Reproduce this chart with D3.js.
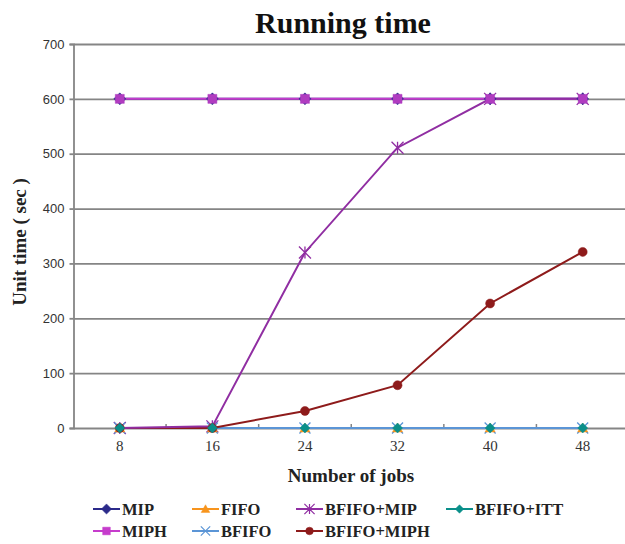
<!DOCTYPE html>
<html>
<head>
<meta charset="utf-8">
<script src="https://cdn.jsdelivr.net/npm/d3@7"></script>
<style>
  html, body { margin: 0; padding: 0; background: #fff; }
  svg { display: block; }
</style>
</head>
<body>
<svg id="chart" width="625" height="544"></svg>
<script>
// ---- data ----
const categories = ["8", "16", "24", "32", "40", "48"];
const yTicks = [0, 100, 200, 300, 400, 500, 600, 700];
const mip       = [600, 600, 600, 600, 600, 600];
const miph      = [600, 600, 600, 600, 600, 600];
const fifo      = [0, 0, 0, 0, 0, 0];
const bfifo     = [0, 0, 0, 0, 0, 0];
const bfifoMip  = [0, 3, 320, 511, 600, 600];
const bfifoMiph = [0, 0, 31, 78, 227, 321];
const bfifoItt  = [0, 0, 0, 0, 0, 0];

const seriesNames = ["MIP", "MIPH", "FIFO", "BFIFO", "BFIFO+MIP", "BFIFO+MIPH", "BFIFO+ITT"];

const series = [
  { name: "MIP",        values: mip,       color: "#2b2a8a", marker: "diamond" },
  { name: "MIPH",       values: miph,      color: "#c63ccc", marker: "square" },
  { name: "FIFO",       values: fifo,      color: "#f7941d", marker: "triangle" },
  { name: "BFIFO",      values: bfifo,     color: "#5b95d6", marker: "x" },
  { name: "BFIFO+MIP",  values: bfifoMip,  color: "#902ea2", marker: "asterisk" },
  { name: "BFIFO+MIPH", values: bfifoMiph, color: "#8e1b1b", marker: "circle" },
  { name: "BFIFO+ITT",  values: bfifoItt,  color: "#0a8f8a", marker: "smalldiamond" }
];

// ---- layout ----
const svg = d3.select("#chart");
const pLeft = 73.5, pRight = 629, pTop = 44, pBottom = 428;

const x = d3.scaleBand().domain(categories).range([pLeft, pRight]).padding(0);
const xc = d => x(d) + x.bandwidth() / 2;
const y = d3.scaleLinear().domain([0, 700]).range([pBottom, pTop]);

// gridlines + y axis
const yAxis = d3.axisLeft(y).tickValues(yTicks).tickSize(4).tickFormat(d3.format("d"));
const gy = svg.append("g").attr("transform", `translate(${pLeft},0)`).call(yAxis);
gy.select(".domain").attr("stroke", "#858585").attr("stroke-width", 1.8);
gy.selectAll(".tick line").attr("stroke", "#858585").attr("stroke-width", 1.8);
gy.selectAll(".tick text")
  .attr("x", -9)
  .attr("font-family", "'Liberation Sans Narrow', 'Liberation Sans', Arial, sans-serif")
  .attr("font-size", 13).attr("fill", "#333");
gy.selectAll(".tick").append("line")
  .attr("x1", 0).attr("x2", 625 - pLeft)
  .attr("stroke", "#858585").attr("stroke-width", 1.8);

// x axis
const xAxis = d3.axisBottom(x).tickSize(0).tickPadding(12);
const gx = svg.append("g").attr("transform", `translate(0,${pBottom})`).call(xAxis);
gx.select(".domain").remove();
gx.selectAll(".tick text")
  .attr("font-family", "'Liberation Serif', 'Times New Roman', serif")
  .attr("font-size", 15).attr("fill", "#333");
gx.selectAll("line.bnd").data(categories.slice(1)).enter().append("line")
  .attr("class", "bnd")
  .attr("x1", d => x(d)).attr("x2", d => x(d))
  .attr("y1", -4).attr("y2", 0)
  .attr("stroke", "#858585").attr("stroke-width", 1.5);

// marker generator
function markerPath(type, s) {
  const h = s / 2;
  switch (type) {
    case "diamond": return `M0,${-h}L${h},0L0,${h}L${-h},0Z`;
    case "smalldiamond": return `M0,${-h}L${h},0L0,${h}L${-h},0Z`;
    case "square": return `M${-h},${-h}H${h}V${h}H${-h}Z`;
    case "triangle": return `M0,${-h}L${h},${h * 0.8}L${-h},${h * 0.8}Z`;
    case "x": return `M${-h},${-h}L${h},${h}M${h},${-h}L${-h},${h}`;
    case "asterisk": return `M${-h},${-h}L${h},${h}M${h},${-h}L${-h},${h}M0,${-h}V${h}`;
    case "circle": return d3.symbol(d3.symbolCircle, Math.PI * h * h)();
  }
}
const markerSize = { diamond: 12, square: 9, triangle: 10, x: 11, asterisk: 12, circle: 9, smalldiamond: 10 };
const isStroke = t => t === "x" || t === "asterisk";

const line = d3.line().x((v, i) => xc(categories[i])).y(v => y(v));

// line draw order
const lineOrder = ["FIFO", "BFIFO+ITT", "BFIFO", "MIP", "MIPH", "BFIFO+MIPH", "BFIFO+MIP"];
const byName = Object.fromEntries(series.map(s => [s.name, s]));
lineOrder.forEach(n => {
  const s = byName[n];
  svg.append("path").datum(s.values)
    .attr("d", line).attr("fill", "none")
    .attr("stroke", s.color).attr("stroke-width", 2);
});

// markers draw order
const markerOrder = ["BFIFO+MIP", "BFIFO", "FIFO", "BFIFO+MIPH", "BFIFO+ITT", "MIP", "MIPH"];
markerOrder.forEach(n => {
  const s = byName[n];
  svg.append("g").selectAll("path").data(s.values).enter().append("path")
    .attr("transform", (v, i) => `translate(${xc(categories[i])},${y(v)})`)
    .attr("d", markerPath(s.marker, markerSize[s.marker]))
    .attr("fill", isStroke(s.marker) ? "none" : (s.name === "MIPH" ? "#b03cc0" : s.color))
    .attr("stroke", s.name === "MIPH" ? "#b03cc0" : s.color)
    .attr("stroke-width", isStroke(s.marker) ? 1.3 : 0.5);
});

// titles
svg.append("text").attr("x", 343).attr("y", 33).attr("text-anchor", "middle")
  .attr("font-family", "'Liberation Serif', 'Times New Roman', serif")
  .attr("font-weight", "bold").attr("font-size", 30).attr("fill", "#111")
  .text("Running time");

svg.append("text").attr("x", 351).attr("y", 482).attr("text-anchor", "middle")
  .attr("font-family", "'Liberation Serif', 'Times New Roman', serif")
  .attr("font-weight", "bold").attr("font-size", 19).attr("fill", "#222")
  .text("Number of jobs");

svg.append("text").attr("transform", "translate(26,242) rotate(-90)").attr("text-anchor", "middle")
  .attr("font-family", "'Liberation Serif', 'Times New Roman', serif")
  .attr("font-weight", "bold").attr("font-size", 19).attr("fill", "#222")
  .text("Unit time ( sec )");

// legend
const legendPos = {
  "MIP": [93, 509], "FIFO": [192, 509], "BFIFO+MIP": [296, 509], "BFIFO+ITT": [446, 509],
  "MIPH": [93, 531], "BFIFO": [192, 531], "BFIFO+MIPH": [296, 531]
};
seriesNames.forEach(n => {
  const s = byName[n];
  const [lx, ly] = legendPos[n];
  const g = svg.append("g").attr("transform", `translate(${lx},${ly})`);
  g.append("line").attr("x1", 0).attr("x2", 27).attr("y1", 0).attr("y2", 0)
    .attr("stroke", s.color).attr("stroke-width", 2);
  g.append("path").attr("transform", "translate(13.5,0)")
    .attr("d", markerPath(s.marker, markerSize[s.marker] * 0.85))
    .attr("fill", isStroke(s.marker) ? "none" : s.color)
    .attr("stroke", s.color).attr("stroke-width", isStroke(s.marker) ? 1.2 : 0.5);
  g.append("text").attr("x", 29).attr("y", 5.5)
    .attr("font-family", "'Liberation Serif', 'Times New Roman', serif")
    .attr("font-weight", "bold").attr("font-size", 16.5).attr("fill", "#222")
    .text(n);
});
</script>
</body>
</html>
